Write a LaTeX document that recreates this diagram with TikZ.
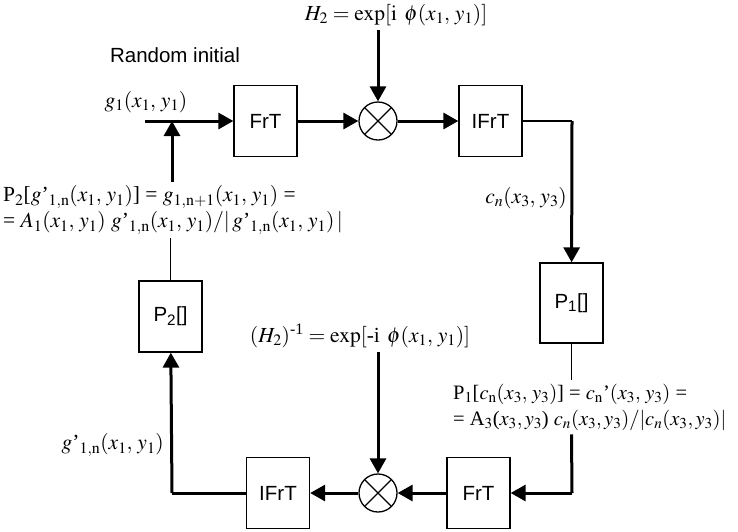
\documentclass[tikz,border=0pt]{standalone}
\usepackage{amsmath}
\usepackage{mathptmx}
\usepackage[no-math]{fontspec}
\setmainfont{Liberation Serif}
\setsansfont{Liberation Sans}
\usepackage{tikz}
\usetikzlibrary{arrows.meta, positioning, calc}
\tikzstyle{block} = [rectangle, draw, line width=1.3pt, minimum width=63pt, minimum height=71pt, inner sep=0pt, text centered, font=\fontsize{20.5}{24}\sffamily]
\tikzstyle{mixer} = [circle, draw, line width=1.3pt, minimum size=38pt, inner sep=0pt, path picture={\draw[line width=1.3pt] (path picture bounding box.south west) -- (path picture bounding box.north east) (path picture bounding box.north west) -- (path picture bounding box.south east);}]
\tikzstyle{eq} = [inner xsep=2pt, inner ysep=4pt, font=\fontsize{21.5}{26}\selectfont]
\tikzstyle{arrow} = [line width=3pt, -{Triangle[length=15pt, width=16pt]}]
\tikzstyle{wire} = [line width=3pt]
\tikzstyle{thin} = [line width=1.3pt]

\begin{document}
\begin{tikzpicture}[x=1pt, y=-1pt]
    % Iterative phase retrieval loop
    \useasboundingbox (0,0) rectangle (738,531);
    \node[block] (frt1) at (265.5,121) {FrT};
    \node[mixer] (mix1) at (378,121) {};
    \node[block] (ifrt1) at (490.5,121) {IFrT};
    \node[block, minimum height=80pt] (p1) at (571.5,303) {P\textsubscript{1}[]};
    \node[block] (frt2) at (478.5,493) {FrT};
    \node[mixer] (mix2) at (378,493) {};
    \node[block] (ifrt2) at (278,493) {IFrT};
    \node[block] (p2) at (170.5,316.5) {P\textsubscript{2}[]};

    \coordinate (start) at (145,121);
    \coordinate (junc) at (172,121);
    \coordinate (corner1) at (572,121);
    \coordinate (corner2) at (572,493);
    \coordinate (corner3) at (172,493);

    \node[font=\fontsize{20.5}{24}\sffamily] (random) at (175,55) {Random initial};
    \node[eq] (g1) at (146,102) {$g_1(x_1,\, y_1)$};
    \node[eq] (h2) at (396,15) {$H_2 = \exp[\mathrm{i}\;\,\phi(x_1,\, y_1)]$};
    \node[eq, anchor=east] (cn) at (569,198) {$c_n(x_3,\, y_3)$};
    \node[eq] (h2inv) at (360,336) {$(H_2)^{\text{-1}} = \exp[\text{-i}\;\,\phi(x_1,\, y_1)]$};
    \node[eq, anchor=east] (g1n) at (166,445) {$g\text{'}_{1,\mathrm{n}}(x_1,\, y_1)$};
    \node[eq, anchor=west, align=left] (eqp2) at (1,210) {P$_2$[$g\text{'}_{1,\mathrm{n}}(x_1,\, y_1)$] = $g_{1,\mathrm{n+1}}(x_1,\, y_1)$ =\\
        = $A_1(x_1,\, y_1)\ g\text{'}_{1,\mathrm{n}}(x_1,\, y_1)/|\,g\text{'}_{1,\mathrm{n}}(x_1,\, y_1)\,|$};
    \node[eq, font=\fontsize{20.5}{26}\selectfont, anchor=west, align=left] (eqp1) at (451,407) {P$_1$[$c_\mathrm{n}(x_3,\, y_3)$] = $c_\mathrm{n}$'$(x_3,\, y_3)$ =\\
        = A$_3$($x_3, y_3$) $c_n(x_3, y_3)/|c_n(x_3, y_3)|$};

    \draw[arrow] (start) -- (frt1);
    \draw[arrow] (frt1) -- (mix1);
    \draw[arrow] (mix1 |- h2.south) -- (mix1);
    \draw[arrow] (mix1) -- (ifrt1);
    \draw[thin] (ifrt1) -- (corner1);
    \draw[arrow] (corner1) -- (p1);
    \draw[thin] (p1) -- (p1 |- eqp1.north);
    \draw[wire] (p1 |- eqp1.south) -- (corner2);
    \draw[arrow] (corner2) -- (frt2);
    \draw[arrow] (frt2) -- (mix2);
    \draw[arrow] (mix2 |- h2inv.south) -- (mix2);
    \draw[arrow] (mix2) -- (ifrt2);
    \draw[wire] (ifrt2) -- (corner3);
    \draw[arrow] (corner3) -- (p2);
    \draw[thin] (p2) -- (p2 |- eqp2.south);
    \draw[arrow] (junc |- eqp2.north) -- (junc);
\end{tikzpicture}
\end{document}
